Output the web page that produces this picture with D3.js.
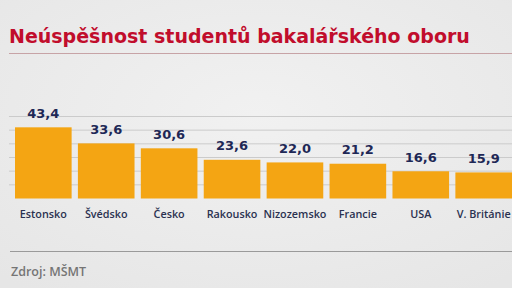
<!doctype html>
<html>
  <head>
    <script src="https://cdnjs.cloudflare.com/ajax/libs/d3/7.8.5/d3.min.js"></script>
    <style>
      body { margin: 0; background: #ebebeb; }
      svg { display: block; font-family: "DejaVu Sans", sans-serif; }
    </style>
  </head>
  <body>
    <svg width="512" height="288"></svg>
    <script>
        var countries = ["Estonsko", "Švédsko", "Česko", "Rakousko", "Nizozemsko", "Francie", "USA", "V. Británie"];
        var values = [43.4, 33.6, 30.6, 23.6, 22.0, 21.2, 16.6, 15.9];
        var valueLabels = ["43,4", "33,6", "30,6", "23,6", "22,0", "21,2", "16,6", "15,9"];
        var gridValues = [50/6, 100/6, 25, 200/6, 250/6, 50];

        var svg = d3.select("svg");

        var defs = svg.append("defs");
        var grad = defs.append("radialGradient").attr("id", "bg")
            .attr("cx", "50%").attr("cy", "40%").attr("r", "75%");
        grad.append("stop").attr("offset", "0%").attr("stop-color", "#f1f1f1");
        grad.append("stop").attr("offset", "100%").attr("stop-color", "#e6e6e6");
        svg.append("rect").attr("width", 512).attr("height", 288).attr("fill", "url(#bg)");

        // title
        svg.append("text")
            .attr("x", 9).attr("y", 42.5)
            .style("font-size", "19px").style("font-weight", "bold")
            .style("fill", "#c10d2c")
            .text("Neúspěšnost studentů bakalářského oboru");

        svg.append("line")
            .attr("x1", 9).attr("x2", 512).attr("y1", 53.5).attr("y2", 53.5)
            .style("stroke", "#c7a3a6").style("stroke-width", 1);

        var x = d3.scaleBand()
            .domain(countries)
            .range([15, 512])
            .paddingInner(0.1)
            .paddingOuter(0);

        var y = d3.scaleLinear()
            .domain([0, 50])
            .range([198.5, 116.5]);

        // gridlines
        svg.append("g").selectAll("line")
            .data(gridValues)
            .enter()
            .append("line")
                .attr("x1", 9).attr("x2", 512)
                .attr("y1", d => y(d)).attr("y2", d => y(d))
                .style("stroke", "#cbcbcb").style("stroke-width", 1);

        svg.append("g").selectAll("rect")
            .data(values)
            .enter()
            .append("rect")
                .attr("x", (d, i) => x(countries[i]))
                .attr("width", x.bandwidth())
                .attr("y", d => y(d))
                .attr("height", d => y(0) - y(d))
                .style("fill", "#f4a513");

        svg.append("g").selectAll("text")
            .data(values)
            .enter()
            .append("text")
                .attr("x", (d, i) => x(countries[i]) + x.bandwidth() / 2)
                .attr("y", d => y(d) - 9.5)
                .attr("text-anchor", "middle")
                .style("font-size", "13px").style("font-weight", "bold")
                .style("fill", "#1e2856")
                .text((d, i) => valueLabels[i]);

        svg.append("g").selectAll("text")
            .data(countries)
            .enter()
            .append("text")
                .attr("x", d => x(d) + x.bandwidth() / 2)
                .attr("y", 218)
                .attr("text-anchor", "middle")
                .style("font-family", "'Open Sans', sans-serif")
                .style("font-size", "10.8px").style("font-weight", "600")
                .style("fill", "#2a3150")
                .text(d => d);

        // footer
        svg.append("line")
            .attr("x1", 10).attr("x2", 512).attr("y1", 251.5).attr("y2", 251.5)
            .style("stroke", "#9a9a9a").style("stroke-width", 1);

        svg.append("text")
            .attr("x", 11).attr("y", 276)
            .style("font-family", "'Open Sans', sans-serif")
            .style("font-size", "12.5px").style("font-weight", "600")
            .style("fill", "#757575")
            .text("Zdroj: MŠMT");
    </script>
  </body>
</html>
